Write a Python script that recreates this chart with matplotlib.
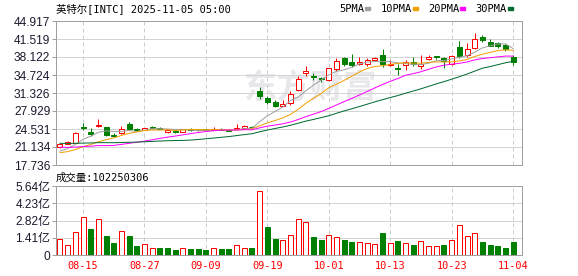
import matplotlib
matplotlib.use('Agg')
import matplotlib.pyplot as plt
import numpy as np

# ---------------- data ----------------
dates = ['08-12', '08-13', '08-14', '08-15', '08-18', '08-19', '08-20', '08-21', '08-22', '08-25',
         '08-26', '08-27', '08-28', '08-29', '09-02', '09-03', '09-04', '09-05', '09-08', '09-09',
         '09-10', '09-11', '09-12', '09-15', '09-16', '09-17', '09-18', '09-19', '09-22', '09-23',
         '09-24', '09-25', '09-26', '09-29', '09-30', '10-01', '10-02', '10-03', '10-06', '10-07',
         '10-08', '10-09', '10-10', '10-13', '10-14', '10-15', '10-16', '10-17', '10-20', '10-21',
         '10-22', '10-23', '10-24', '10-27', '10-28', '10-29', '10-30', '10-31', '11-03', '11-04']

opens = [21.20, 21.77, 21.96, 24.97, 24.03, 25.10, 24.90, 23.47, 23.73, 25.48,
         24.50, 24.29, 24.92, 24.80, 23.97, 24.16, 23.97, 24.48, 24.50, 24.45,
         24.35, 24.58, 24.35, 24.48, 24.80, 25.00, 31.77, 30.45, 29.63, 28.93,
         29.39, 31.90, 35.16, 34.54, 34.16, 33.78, 35.86, 37.93, 37.12, 36.75,
         36.80, 37.62, 38.45, 36.56, 36.11, 36.56, 37.12, 36.43, 37.69, 38.30,
         37.93, 36.80, 40.01, 38.50, 39.77, 41.84, 40.90, 40.77, 40.39, 38.18]
highs = [21.80, 22.33, 24.03, 25.60, 24.73, 26.37, 24.95, 23.84, 25.10, 25.80,
         24.65, 24.80, 25.10, 24.92, 24.35, 24.30, 24.55, 24.73, 24.60, 24.60,
         24.92, 24.70, 24.45, 25.41, 25.20, 25.15, 32.52, 30.77, 30.00, 30.07,
         31.71, 34.60, 36.43, 35.16, 34.41, 36.05, 37.88, 38.07, 38.63, 38.07,
         37.88, 38.18, 39.63, 37.56, 36.86, 37.62, 38.12, 38.50, 38.56, 38.40,
         38.10, 38.50, 41.20, 40.71, 42.65, 42.22, 41.52, 41.01, 40.58, 38.45]
lows = [20.90, 21.70, 21.90, 24.35, 23.28, 25.00, 23.20, 22.97, 23.65, 24.41,
        24.20, 24.25, 24.60, 24.50, 23.73, 23.85, 23.90, 24.20, 24.15, 24.15,
        24.30, 24.25, 24.08, 24.40, 24.70, 24.67, 30.20, 29.31, 28.63, 28.80,
        29.07, 31.70, 34.60, 33.78, 33.47, 33.60, 35.54, 36.43, 36.29, 36.56,
        36.48, 37.37, 36.29, 36.37, 34.73, 35.73, 36.48, 35.92, 37.62, 37.75,
        36.11, 36.67, 37.99, 38.07, 39.63, 41.01, 40.20, 39.77, 39.20, 36.62]
closes = [21.65, 22.14, 23.73, 24.67, 23.65, 25.35, 23.47, 23.28, 24.60, 24.55,
          24.38, 24.67, 24.73, 24.60, 24.29, 23.92, 24.48, 24.33, 24.30, 24.27,
          24.60, 24.40, 24.16, 24.67, 25.10, 24.90, 30.71, 29.69, 28.82, 29.20,
          31.09, 34.03, 35.48, 34.29, 33.92, 35.99, 37.43, 36.86, 36.67, 37.24,
          37.62, 37.93, 36.75, 36.86, 35.80, 37.18, 36.75, 36.85, 38.15, 38.17,
          37.37, 38.26, 38.37, 39.63, 41.52, 41.39, 40.26, 40.14, 39.69, 37.12]
# volume in 亿 shares
volumes = [1.29, 0.80, 1.88, 3.09, 2.13, 2.92, 1.56, 0.98, 1.97, 1.56,
           0.74, 0.90, 0.57, 0.57, 0.57, 0.41, 0.55, 0.50, 0.50, 0.41,
           0.55, 0.50, 0.50, 0.80, 0.57, 0.57, 5.20, 2.30, 1.31, 1.23,
           1.60, 2.92, 2.68, 1.45, 1.23, 1.61, 1.45, 1.23, 1.07, 1.07,
           0.96, 0.90, 1.80, 0.96, 1.15, 0.96, 0.82, 1.15, 0.71, 0.71,
           0.82, 1.20, 2.43, 1.53, 1.78, 1.07, 0.82, 0.74, 0.57, 1.0225]
# closes before the window (for moving averages)
prior_closes = [22.9, 23.1, 23.3, 22.9, 23.5, 23.7, 23.5, 23.3, 23.5, 23.2,
                22.9, 22.7, 22.4, 22.5, 23.0, 23.6, 22.63, 20.70, 20.4, 20.5,
                20.2, 19.83, 19.31, 19.6, 19.95, 19.78, 19.77, 19.95, 20.65]

ma_periods = [5, 10, 20, 30]
ma_names = ['5PMA', '10PMA', '20PMA', '30PMA']
ma_colors = ['#A0A0A0', '#F0A000', '#FF00FF', '#006A30']

price_ticks = [17.736, 21.134, 24.531, 27.929, 31.326, 34.724, 38.122, 41.519, 44.917]
vol_ticks = [0, 1.41, 2.82, 4.23, 5.64]
vol_tick_labels = ['0', '1.41亿', '2.82亿', '4.23亿', '5.64亿']
date_ticks = ['08-15', '08-27', '09-09', '09-19', '10-01', '10-13', '10-23', '11-04']

title_text = '英特尔[INTC] 2025-11-05 05:00'
vol_title = '成交量:102250306'

# ---------------- drawing ----------------
W, H = 578, 276
fig = plt.figure(figsize=(W / 100, H / 100), dpi=100)
PX = 0.72

L, R = 56, 522
ax = fig.add_axes([L / W, 1 - 165 / H, (R - L) / W, (165 - 21) / H])
axv = fig.add_axes([L / W, 1 - 255 / H, (R - L) / W, (255 - 186) / H])

n = len(closes)
x = np.arange(n)
o = np.array(opens); c = np.array(closes); hi = np.array(highs); lo = np.array(lows)
RED = '#FF0000'
GREEN = '#008000'
up = c >= o

all_c = np.array(prior_closes + closes)
n0 = len(prior_closes)

def ma(p):
    return np.array([all_c[n0 + k - p + 1:n0 + k + 1].mean() for k in range(n)])

frame_col = '#A0A0A0'
grid_col = '#D4D4D4'
mono = ['DejaVu Sans Mono', 'Noto Sans CJK SC']
sans = ['Liberation Sans', 'Noto Sans CJK SC']

for a in (ax, axv):
    a.set_xlim(-0.52, 60.16)
    for s in a.spines.values():
        s.set_color(frame_col)
        s.set_linewidth(1 * PX)
    a.tick_params(axis='x', length=0)
    a.tick_params(axis='y', length=3, width=PX, color=frame_col, pad=1)
    a.set_xticks([dates.index(d) for d in date_ticks])
    for d in date_ticks:
        a.axvline(dates.index(d), color='#CCCCCC', lw=1 * PX, ls=(0, (4, 3)), zorder=1)
    a.set_axisbelow(True)

# main price panel
ax.set_ylim(price_ticks[0], price_ticks[-1])
ax.set_yticks(price_ticks)
ax.set_yticklabels(['%.3f' % v for v in price_ticks], family=sans, fontsize=8.6, color='#1a1a2e')
ax.grid(axis='y', color=grid_col, lw=1 * PX)
ax.set_xticklabels([])

ax.text(0.545, 0.53, '东方财富', transform=ax.transAxes, ha='center', va='center',
        fontsize=24, fontweight='bold', color='#E8E8EC', family='Noto Sans CJK SC', zorder=0)

bw = 0.65
cols = np.where(up, RED, GREEN)
ax.vlines(x, lo, hi, colors=cols, lw=1 * PX, zorder=3)
bottoms = np.minimum(o, c)
heights = np.maximum(np.abs(c - o), 0.02)
ax.bar(x, heights, bottom=bottoms, width=bw, color=np.where(up, 'white', GREEN),
       edgecolor=cols, linewidth=1 * PX, zorder=4)

for p, col in zip(ma_periods, ma_colors):
    ax.plot(x, ma(p), color=col, lw=1 * PX, zorder=5)

# volume panel
prev = np.concatenate([[prior_closes[-1]], c[:-1]])
vup = c >= prev
vcols = np.where(vup, RED, GREEN)
axv.bar(x, volumes, width=bw, color=np.where(vup, 'white', GREEN), edgecolor=vcols,
        linewidth=1 * PX, zorder=3)
axv.set_ylim(0, 5.64)
axv.set_yticks(vol_ticks)
axv.set_yticklabels(vol_tick_labels, family=sans, fontsize=8.6, color='#1a1a2e')
axv.grid(axis='y', color=grid_col, lw=1 * PX)
axv.set_xticklabels(date_ticks, family=mono, fontsize=7.4, color=RED)
axv.tick_params(axis='x', pad=4)

# texts
fig.text(56 / W, 1 - 8.5 / H, title_text, family=mono, fontsize=7.5, color='black', va='center', ha='left')
fig.text(56 / W, 1 - 178 / H, vol_title, family=mono, fontsize=7.5, color='black', va='center', ha='left')

lx = 339
for name, col in zip(ma_names, ma_colors):
    fig.text(lx / W, 1 - 8.5 / H, name, family=mono, fontsize=7.5, color='black', va='center', ha='left')
    tw = len(name) * 6.1
    fig.patches.append(plt.Rectangle(((lx + tw + 2) / W, 1 - 10 / H), 5 / W, 3 / H,
                                     transform=fig.transFigure, color=col, figure=fig))
    lx += tw + 17

fig.savefig('out.png', dpi=100)
